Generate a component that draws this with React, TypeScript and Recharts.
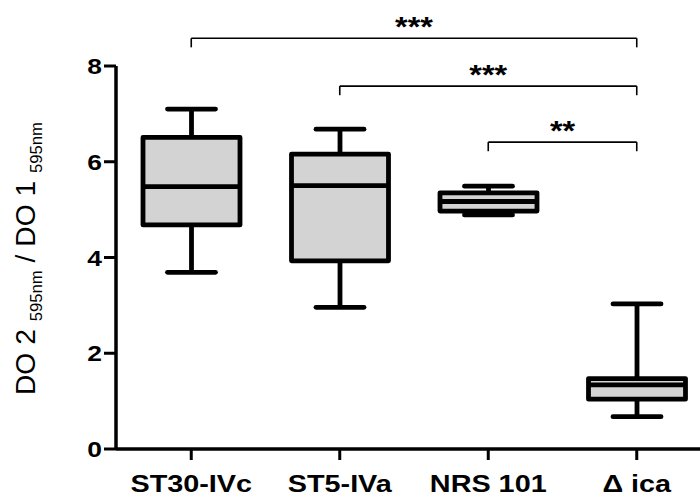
import React from 'react';
import { BarChart, Bar, XAxis, YAxis, ReferenceLine, Customized } from 'recharts';

const categories = ['ST30-IVc', 'ST5-IVa', 'NRS 101', 'Δ ica'];
const whiskerLow = [3.69, 2.96, 4.89, 0.675];
const quartile1 = [4.68, 3.93, 4.97, 1.04];
const medians = [5.48, 5.5, 5.17, 1.34];
const quartile3 = [6.51, 6.16, 5.35, 1.47];
const whiskerHigh = [7.1, 6.68, 5.49, 3.03];
const yTicks = [0, 2, 4, 6, 8];

const bracketFrom = ['ST30-IVc', 'ST5-IVa', 'NRS 101'];
const bracketTo = ['Δ ica', 'Δ ica', 'Δ ica'];
const bracketLevel = [8.58, 7.58, 6.41];
const bracketLabel = ['***', '***', '**'];
const bracketDrop = 0.19;

const data = categories.map((name, i) => ({
  name,
  min: whiskerLow[i],
  q1: quartile1[i],
  median: medians[i],
  q3: quartile3[i],
  max: whiskerHigh[i],
}));

const FONT = '"Liberation Sans", Arial, sans-serif';
const SW = 4.8;

const BoxShape = (props: any) => {
  const { x, y, width, height, payload } = props;
  const top = Math.min(y, y + height);
  const bottom = Math.max(y, y + height);
  const { min, max, q1, q3, median } = payload;
  const pix = (v: number) => bottom - ((v - min) / (max - min)) * (bottom - top);
  const cx = x + width / 2;
  const cap = 24;
  return (
    <g>
      <line x1={cx} x2={cx} y1={pix(max)} y2={pix(q3)} stroke="#000" strokeWidth={SW} />
      <line x1={cx} x2={cx} y1={pix(q1)} y2={pix(min)} stroke="#000" strokeWidth={SW} />
      <line x1={cx - cap} x2={cx + cap} y1={pix(max)} y2={pix(max)} stroke="#000" strokeWidth={SW} strokeLinecap="round" />
      <line x1={cx - cap} x2={cx + cap} y1={pix(min)} y2={pix(min)} stroke="#000" strokeWidth={SW} strokeLinecap="round" />
      <rect x={x} y={pix(q3)} width={width} height={pix(q1) - pix(q3)} fill="#d3d3d3" stroke="#000" strokeWidth={SW} strokeLinejoin="round" />
      <line x1={x} x2={x + width} y1={pix(median)} y2={pix(median)} stroke="#000" strokeWidth={SW} />
    </g>
  );
};

const TickX = (props: any) => {
  const { x, y, payload } = props;
  return (
    <g transform={`translate(${x},${y}) scale(1.2,1)`}>
      <text x={0} y={32} textAnchor="middle" fontFamily={FONT} fontWeight="bold" fontSize={24} fill="#000">
        {payload.value}
      </text>
    </g>
  );
};

const TickY = (props: any) => {
  const { x, y, payload } = props;
  return (
    <g transform={`translate(${x},${y}) scale(1.2,1)`}>
      <text x={0} y={8} textAnchor="end" fontFamily={FONT} fontWeight="bold" fontSize={22} fill="#000">
        {payload.value}
      </text>
    </g>
  );
};

const makeStars = (text: string) => (props: any) => {
  const vb = props.viewBox || {};
  const cx = (vb.x || 0) + (vb.width || 0) / 2;
  const yy = vb.y || 0;
  return (
    <g transform={`translate(${cx},${yy - 2}) scale(1.2,1)`}>
      <text x={0} y={0} textAnchor="middle" fontFamily={FONT} fontWeight="bold" fontSize={27} fill="#000">
        {text}
      </text>
    </g>
  );
};

const Title = () => (
  <g transform="translate(35,258.5) rotate(-90)">
    <text
      x={0}
      y={0}
      textAnchor="middle"
      fontFamily={FONT}
      fontSize={27}
      fill="#000"
      textLength={273}
      lengthAdjust="spacingAndGlyphs"
    >
      DO 2 <tspan fontSize={16} dy={7}>595nm</tspan>
      <tspan dy={-7}> / DO 1 </tspan>
      <tspan fontSize={16} dy={7}>595nm</tspan>
    </text>
  </g>
);

export default function App() {
  return (
    <div style={{ position: 'absolute', left: 0, top: 0, width: 700, height: 497, overflow: 'hidden', background: '#fff' }}>
      <BarChart
        width={711}
        height={497}
        data={data}
        margin={{ top: 66, right: 0, bottom: 0, left: 0 }}
      >
        <XAxis
          dataKey="name"
          height={48}
          padding={{ left: 1, right: 0 }}
          axisLine={{ stroke: '#000', strokeWidth: 3.5 }}
          tickLine={{ stroke: '#000', strokeWidth: 3 }}
          tickSize={11}
          tickMargin={0}
          tick={<TickX />}
          interval={0}
        />
        <YAxis
          width={116}
          domain={[0, 8]}
          ticks={yTicks}
          axisLine={{ stroke: '#000', strokeWidth: 3.5 }}
          tickLine={{ stroke: '#000', strokeWidth: 3 }}
          tickSize={12}
          tickMargin={2}
          tick={<TickY />}
          interval={0}
        />
        <Bar
          dataKey={(d: any) => [d.min, d.max]}
          barSize={97}
          shape={<BoxShape />}
          isAnimationActive={false}
        />
        {bracketFrom.map((from, i) => (
          <ReferenceLine
            key={`h${i}`}
            segment={[{ x: from, y: bracketLevel[i] }, { x: bracketTo[i], y: bracketLevel[i] }]}
            stroke="#000"
            strokeWidth={1.6}
            ifOverflow="visible"
            label={makeStars(bracketLabel[i])}
          />
        ))}
        {bracketFrom.map((from, i) => (
          <ReferenceLine
            key={`l${i}`}
            segment={[{ x: from, y: bracketLevel[i] }, { x: from, y: bracketLevel[i] - bracketDrop }]}
            stroke="#000"
            strokeWidth={1.6}
            ifOverflow="visible"
          />
        ))}
        {bracketTo.map((to, i) => (
          <ReferenceLine
            key={`r${i}`}
            segment={[{ x: to, y: bracketLevel[i] }, { x: to, y: bracketLevel[i] - bracketDrop }]}
            stroke="#000"
            strokeWidth={1.6}
            ifOverflow="visible"
          />
        ))}
        <Customized component={Title} />
      </BarChart>
    </div>
  );
}
